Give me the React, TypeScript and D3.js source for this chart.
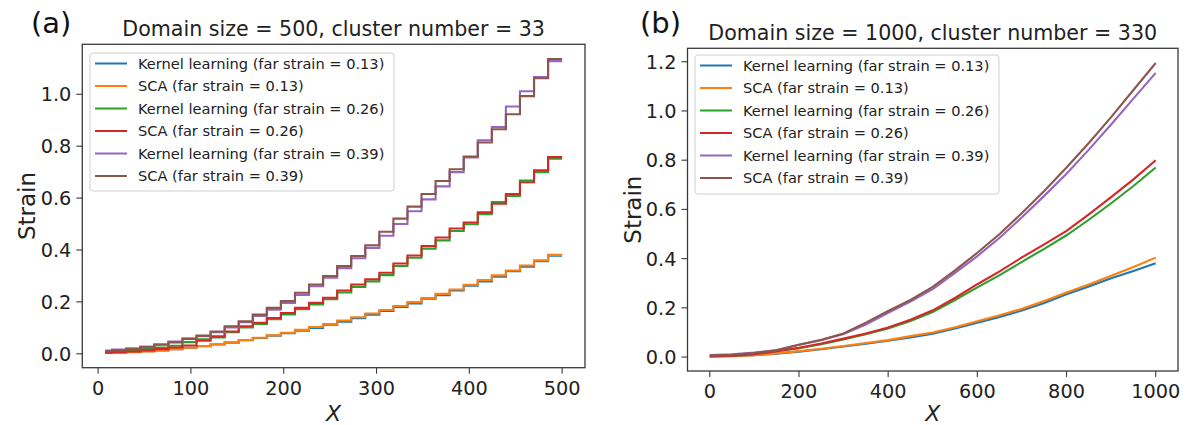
import * as d3 from 'd3';
import React from 'react';

const W = 1190;
const H = 425;
const FONT = "'DejaVu Sans', sans-serif";

const colors = ['#1f77b4', '#ff7f0e', '#2ca02c', '#d62728', '#9467bd', '#8c564b'];
const seriesNames = [
  'Kernel learning (far strain = 0.13)',
  'SCA (far strain = 0.13)',
  'Kernel learning (far strain = 0.26)',
  'SCA (far strain = 0.26)',
  'Kernel learning (far strain = 0.39)',
  'SCA (far strain = 0.39)',
];

// (a) domain size 500, 33 clusters -> one strain value per cluster
const domainA = 500;
const clustersA = 33;
const xStartA = 7.6;
const klA013 = [0.004, 0.005, 0.007, 0.01, 0.013, 0.018, 0.023, 0.029, 0.036, 0.043, 0.052, 0.061, 0.07, 0.079, 0.089, 0.1, 0.112, 0.124, 0.137, 0.151, 0.165, 0.18, 0.194, 0.212, 0.226, 0.244, 0.262, 0.279, 0.297, 0.318, 0.336, 0.357, 0.378];
const scaA013 = [0.003, 0.004, 0.006, 0.009, 0.013, 0.018, 0.023, 0.03, 0.037, 0.044, 0.053, 0.062, 0.071, 0.081, 0.092, 0.103, 0.115, 0.128, 0.141, 0.155, 0.169, 0.184, 0.199, 0.215, 0.231, 0.248, 0.266, 0.284, 0.302, 0.321, 0.34, 0.36, 0.381];
const klA026 = [0.006, 0.009, 0.013, 0.018, 0.024, 0.031, 0.045, 0.056, 0.063, 0.083, 0.101, 0.115, 0.133, 0.152, 0.172, 0.19, 0.21, 0.236, 0.258, 0.279, 0.303, 0.338, 0.37, 0.405, 0.437, 0.473, 0.499, 0.538, 0.585, 0.608, 0.668, 0.7, 0.752];
const scaA026 = [0.004, 0.006, 0.009, 0.013, 0.018, 0.024, 0.032, 0.05, 0.067, 0.086, 0.106, 0.119, 0.138, 0.157, 0.177, 0.196, 0.216, 0.244, 0.267, 0.287, 0.312, 0.348, 0.379, 0.415, 0.448, 0.483, 0.506, 0.545, 0.578, 0.616, 0.661, 0.707, 0.758];
const klA039 = [0.012, 0.016, 0.021, 0.028, 0.037, 0.047, 0.06, 0.068, 0.083, 0.101, 0.122, 0.146, 0.17, 0.196, 0.227, 0.26, 0.293, 0.33, 0.368, 0.408, 0.455, 0.5, 0.549, 0.595, 0.645, 0.7, 0.757, 0.823, 0.874, 0.953, 1.012, 1.066, 1.128];
const scaA039 = [0.01, 0.013, 0.018, 0.025, 0.035, 0.044, 0.057, 0.07, 0.086, 0.106, 0.125, 0.151, 0.177, 0.203, 0.235, 0.267, 0.3, 0.338, 0.377, 0.418, 0.47, 0.521, 0.567, 0.616, 0.666, 0.711, 0.76, 0.814, 0.865, 0.923, 0.993, 1.062, 1.136];

// (b) domain size 1000, 330 clusters (sampled every 50)
const xB = [0, 50, 100, 150, 200, 250, 300, 350, 400, 450, 500, 550, 600, 650, 700, 750, 800, 850, 900, 950, 1000];
const klB013 = [0.004, 0.005, 0.008, 0.014, 0.022, 0.032, 0.043, 0.054, 0.066, 0.08, 0.095, 0.116, 0.14, 0.163, 0.189, 0.22, 0.255, 0.287, 0.32, 0.35, 0.381];
const scaB013 = [0.003, 0.004, 0.008, 0.015, 0.024, 0.034, 0.045, 0.057, 0.069, 0.085, 0.1, 0.121, 0.146, 0.17, 0.196, 0.228, 0.262, 0.295, 0.33, 0.366, 0.404];
const klB026 = [0.004, 0.006, 0.013, 0.024, 0.036, 0.052, 0.072, 0.093, 0.116, 0.147, 0.183, 0.232, 0.283, 0.333, 0.387, 0.44, 0.495, 0.558, 0.625, 0.695, 0.77];
const scaB026 = [0.003, 0.005, 0.012, 0.024, 0.038, 0.055, 0.075, 0.096, 0.12, 0.152, 0.19, 0.24, 0.296, 0.348, 0.405, 0.458, 0.513, 0.58, 0.65, 0.722, 0.8];
const klB039 = [0.008, 0.011, 0.018, 0.029, 0.05, 0.068, 0.094, 0.132, 0.18, 0.226, 0.276, 0.342, 0.41, 0.485, 0.568, 0.655, 0.745, 0.843, 0.945, 1.05, 1.155];
const scaB039 = [0.006, 0.009, 0.016, 0.028, 0.05, 0.07, 0.096, 0.14, 0.187, 0.232, 0.285, 0.352, 0.424, 0.5, 0.585, 0.675, 0.77, 0.87, 0.975, 1.085, 1.195];

const xTicksA = [0, 100, 200, 300, 400, 500];
const yTicksA = [0, 0.2, 0.4, 0.6, 0.8, 1.0];
const xTicksB = [0, 200, 400, 600, 800, 1000];
const yTicksB = [0, 0.2, 0.4, 0.6, 0.8, 1.0, 1.2];

type Pt = [number, number];

const edgesA = d3.range(clustersA + 1).map((k) => (k * domainA) / clustersA);
const stepPoints = (vals: number[]): Pt[] =>
  vals.flatMap((v, i) => [
    [i === 0 ? xStartA : edgesA[i], v] as Pt,
    [edgesA[i + 1], v] as Pt,
  ]);
const samplePoints = (vals: number[]): Pt[] => vals.map((v, i) => [xB[i], v] as Pt);

// matplotlib style auto limits (5% margins)
const padExtent = (vals: number[]): [number, number] => {
  const [lo, hi] = d3.extent(vals) as [number, number];
  const m = (hi - lo) * 0.05;
  return [lo - m, hi + m];
};

const Panel = (props) => {
  const { frame, series, xTicks, yTicks, title, tag, tagX, legend } = props;
  const allX = series.flatMap((s) => s.map((p) => p[0]));
  const allY = series.flatMap((s) => s.map((p) => p[1]));
  const x = d3.scaleLinear().domain(padExtent(allX)).range([frame.left, frame.right]);
  const y = d3.scaleLinear().domain(padExtent(allY)).range([frame.bottom, frame.top]);
  const line = d3
    .line<Pt>()
    .x((d) => x(d[0]))
    .y((d) => y(d[1]));
  const cx = (frame.left + frame.right) / 2;
  const cy = (frame.top + frame.bottom) / 2;
  const tickFs = 19.3;

  return (
    <g fontFamily={FONT}>
      <text x={tagX} y={33} fontSize={29} fill="#111">
        {tag}
      </text>
      <text x={cx} y={frame.top - 8} fontSize={20.6} textAnchor="middle" fill="#222">
        {title}
      </text>

      {series.map((s, i) => (
        <path key={i} d={line(s) || ''} fill="none" stroke={colors[i]} strokeWidth={2.1} />
      ))}

      <rect
        x={frame.left}
        y={frame.top}
        width={frame.right - frame.left}
        height={frame.bottom - frame.top}
        fill="none"
        stroke="#3a3a3a"
        strokeWidth={1.3}
      />

      {xTicks.map((t) => (
        <g key={'x' + t}>
          <line x1={x(t)} x2={x(t)} y1={frame.bottom} y2={frame.bottom + 6} stroke="#3a3a3a" strokeWidth={1.1} />
          <text x={x(t)} y={frame.bottom + 13 + tickFs * 0.73} fontSize={tickFs} textAnchor="middle" fill="#222">
            {String(t)}
          </text>
        </g>
      ))}
      {yTicks.map((t) => (
        <g key={'y' + t}>
          <line x1={frame.left - 6} x2={frame.left} y1={y(t)} y2={y(t)} stroke="#3a3a3a" strokeWidth={1.1} />
          <text x={frame.left - 11} y={y(t)} dy="0.36em" fontSize={tickFs} textAnchor="end" fill="#222">
            {d3.format('.1f')(t)}
          </text>
        </g>
      ))}

      <text
        transform={`translate(${frame.left - 47},${cy}) rotate(-90)`}
        fontSize={23}
        textAnchor="middle"
        fill="#222"
      >
        Strain
      </text>
      <text x={cx} y={H - 4} fontSize={22} fontStyle="italic" textAnchor="middle" fill="#222">
        X
      </text>

      <rect
        x={legend.x}
        y={legend.y}
        width={legend.w}
        height={legend.h}
        rx={3}
        fill="white"
        fillOpacity={0.8}
        stroke="#d0d0d0"
        strokeWidth={1}
      />
      {seriesNames.map((name, i) => {
        const ly = legend.y + 10.5 + i * 22.5;
        return (
          <g key={name}>
            <line x1={legend.x + 5} x2={legend.x + 37} y1={ly} y2={ly} stroke={colors[i]} strokeWidth={2} />
            <text x={legend.x + 48} y={ly} dy="0.36em" fontSize={14.6} fill="#222">
              {name}
            </text>
          </g>
        );
      })}
    </g>
  );
};

const App = () => {
  const seriesA = [klA013, scaA013, klA026, scaA026, klA039, scaA039].map(stepPoints);
  const seriesB = [klB013, scaB013, klB026, scaB026, klB039, scaB039].map(samplePoints);

  return (
    <div style={{ position: 'absolute', left: 0, top: 0 }}>
      <svg width={W} height={H} style={{ display: 'block', background: 'white' }}>
        <Panel
          frame={{ left: 82.3, right: 585, top: 44.3, bottom: 367.7 }}
          series={seriesA}
          xTicks={xTicksA}
          yTicks={yTicksA}
          title="Domain size = 500, cluster number = 33"
          tag="(a)"
          tagX={31}
          legend={{ x: 90, y: 53, w: 304, h: 138 }}
        />
        <Panel
          frame={{ left: 687.5, right: 1178, top: 48.3, bottom: 371 }}
          series={seriesB}
          xTicks={xTicksB}
          yTicks={yTicksB}
          title="Domain size = 1000, cluster number = 330"
          tag="(b)"
          tagX={640}
          legend={{ x: 695, y: 55, w: 304, h: 139 }}
        />
      </svg>
    </div>
  );
};

export default App;
